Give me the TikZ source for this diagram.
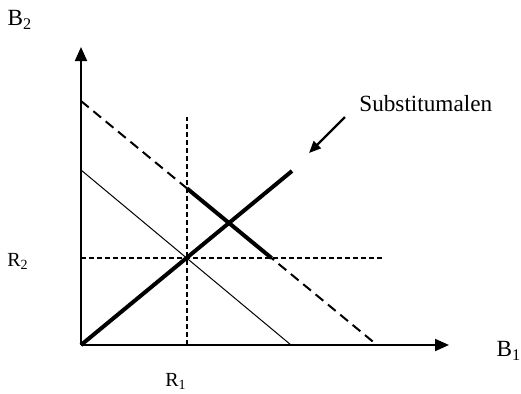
\documentclass[tikz,border=0pt]{standalone}
\usepackage{fontspec}
\setmainfont{Liberation Serif}
\usetikzlibrary{arrows.meta,calc}

\begin{document}
\begin{tikzpicture}[
  x=0.5pt, y=-0.5pt,
  axis/.style={line width=1pt, -{Triangle[length=7pt,width=6pt]}},
  budget/.style={line width=1pt, dash pattern=on 5pt off 3pt},
  guide/.style={line width=0.8pt, dash pattern=on 2.5pt off 1.5pt},
  thinline/.style={line width=0.5pt},
  boldline/.style={line width=2pt},
  pointer/.style={line width=1.2pt, -{Triangle[length=6pt,width=5pt]}},
  biglabel/.style={font=\fontsize{11.6}{14}\selectfont, inner sep=0pt},
  smalllabel/.style={font=\fontsize{10}{12}\selectfont, inner sep=0pt},
]
\useasboundingbox (0,0) rectangle (521,393);

% ---- axes ----
\coordinate (origin) at (81,345);
\coordinate (ytip) at (81,47);
\coordinate (xtip) at (449,345);
\draw[axis] (origin) -- (ytip);
\draw[axis] (origin) -- (xtip);

\node[biglabel] (lblBtwo) at (20,20) {B\textsubscript{2}};
\node[biglabel] (lblBone) at (509,351) {B\textsubscript{1}};
\node[smalllabel] (lblRone) at (176,381) {R\textsubscript{1}};
\node[smalllabel] (lblRtwo) at (18,261) {R\textsubscript{2}};

% ---- budget lines ----
\coordinate (newtop) at (81,101);
\coordinate (newend) at (377,345);
\coordinate (oldtop) at (81,170);
\coordinate (oldend) at (291,345);
\draw[budget] (newtop) -- (newend);
\draw[thinline] (oldtop) -- (oldend);

% ---- rations ----
\coordinate (rone) at (187,345);
\coordinate (ronetop) at (187,117);
\coordinate (rtwo) at (81,258);
\coordinate (rtwoend) at (385,258);
\draw[guide] (rone) -- (ronetop);
\draw[guide] (rtwo) -- (rtwoend);

% ---- substitumalen ----
\coordinate (subend) at (292,171);
\draw[boldline] (origin) -- (subend);

% feasible part of the new budget line
\coordinate (feasA) at (187,188.4);
\coordinate (feasB) at (271.5,258);
\draw[boldline] (feasA) -- (feasB);

\node[biglabel, anchor=west] (subst) at (359,104) {Substitumalen};
\coordinate (ptrstart) at (345,117);
\coordinate (ptrend) at (309,153);
\draw[pointer] (ptrstart) -- (ptrend);

\end{tikzpicture}
\end{document}
